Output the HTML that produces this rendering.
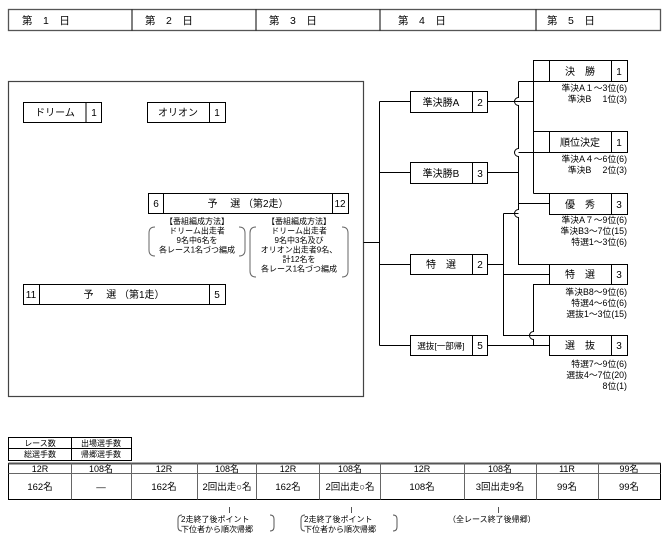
<!DOCTYPE html>
<html><head><meta charset="utf-8"><style>
body{margin:0;background:#fff}
svg{display:block}
text{font-family:"Liberation Sans","Noto Sans CJK JP",sans-serif;fill:#000}
</style></head><body>
<svg width="670" height="534" viewBox="0 0 670 534" xmlns="http://www.w3.org/2000/svg">
<g fill="none" stroke="#000" stroke-width="1">
<rect x="8.5" y="9.5" width="652" height="21" stroke="#555" stroke-width="1.3"/>
<line x1="132" y1="9.5" x2="132" y2="30.5"/><line x1="256" y1="9.5" x2="256" y2="30.5"/>
<line x1="380" y1="9.5" x2="380" y2="30.5"/><line x1="536" y1="9.5" x2="536" y2="30.5"/>
<rect x="8.5" y="81.5" width="355" height="315" stroke="#444" stroke-width="1.2"/>
<rect x="23.5" y="102.5" width="78" height="20"/><line x1="86" y1="102.5" x2="86" y2="122.5"/>
<rect x="147.5" y="102.5" width="78" height="20"/><line x1="209.5" y1="102.5" x2="209.5" y2="122.5"/>
<rect x="148.5" y="193.5" width="200" height="20"/><line x1="163.5" y1="193.5" x2="163.5" y2="213.5"/><line x1="332.5" y1="193.5" x2="332.5" y2="213.5"/>
<rect x="23.5" y="284.5" width="202" height="20"/><line x1="39.5" y1="284.5" x2="39.5" y2="304.5"/><line x1="209.5" y1="284.5" x2="209.5" y2="304.5"/>
<path d="M155 227 Q149 227 149 233 L149 250 Q149 256 155 256" stroke="#666"/>
<path d="M239 227 Q245 227 245 233 L245 250 Q245 256 239 256" stroke="#666"/>
<path d="M256 227 Q250 227 250 233 L250 271 Q250 277 256 277" stroke="#666"/>
<path d="M342 227 Q348 227 348 233 L348 271 Q348 277 342 277" stroke="#666"/>
<line x1="363.5" y1="242.5" x2="379.5" y2="242.5"/>
<line x1="379.5" y1="101.5" x2="379.5" y2="345.5"/>
<line x1="379.5" y1="101.5" x2="410.5" y2="101.5"/>
<line x1="379.5" y1="172.5" x2="410.5" y2="172.5"/>
<line x1="379.5" y1="264.5" x2="410.5" y2="264.5"/>
<line x1="379.5" y1="345.5" x2="410.5" y2="345.5"/>
<rect x="410.5" y="91.5" width="77" height="21"/><line x1="472.5" y1="91.5" x2="472.5" y2="112.5"/>
<rect x="410.5" y="162.5" width="77" height="21"/><line x1="472.5" y1="162.5" x2="472.5" y2="183.5"/>
<rect x="410.5" y="254.5" width="77" height="20"/><line x1="472.5" y1="254.5" x2="472.5" y2="274.5"/>
<rect x="410.5" y="335.5" width="77" height="20"/><line x1="472.5" y1="335.5" x2="472.5" y2="355.5"/>
<rect x="533.5" y="60.5" width="94" height="21"/><line x1="549.5" y1="60.5" x2="549.5" y2="81.5"/><line x1="611.5" y1="60.5" x2="611.5" y2="81.5"/>
<rect x="533.5" y="131.5" width="94" height="21"/><line x1="549.5" y1="131.5" x2="549.5" y2="152.5"/><line x1="611.5" y1="131.5" x2="611.5" y2="152.5"/>
<rect x="549.5" y="193.5" width="78" height="21"/><line x1="611.5" y1="193.5" x2="611.5" y2="214.5"/>
<rect x="549.5" y="264.5" width="78" height="20"/><line x1="611.5" y1="264.5" x2="611.5" y2="284.5"/>
<rect x="549.5" y="335.5" width="78" height="20"/><line x1="611.5" y1="335.5" x2="611.5" y2="355.5"/>
<line x1="533.5" y1="81.5" x2="533.5" y2="193.5"/><line x1="533.5" y1="193.5" x2="549.5" y2="193.5"/>
<line x1="487.5" y1="101.5" x2="533.5" y2="101.5"/>
<line x1="487.5" y1="172.5" x2="518.5" y2="172.5"/>
<line x1="518.5" y1="81.5" x2="533.5" y2="81.5"/>
<line x1="518.5" y1="152.5" x2="533.5" y2="152.5"/>
<line x1="518.5" y1="203.5" x2="549.5" y2="203.5"/>
<path d="M518.5 81.5 L518.5 97.5 A4 4 0 0 0 518.5 105.5 L518.5 148.5 A4 4 0 0 0 518.5 156.5 L518.5 209.5 A4 4 0 0 0 518.5 217.5 L518.5 264.5 L549.5 264.5"/>
<line x1="487.5" y1="264.5" x2="503.5" y2="264.5"/>
<line x1="503.5" y1="213.5" x2="518.5" y2="213.5"/>
<path d="M503.5 213.5 L503.5 335.5 L549.5 335.5"/>
<line x1="503.5" y1="274.5" x2="549.5" y2="274.5"/>
<path d="M549.5 284.5 L533.5 284.5 L533.5 331.5 A4 4 0 0 0 533.5 339.5 L533.5 345.5"/>
<line x1="487.5" y1="345.5" x2="549.5" y2="345.5"/>
<rect x="8.5" y="437.5" width="123" height="23"/><line x1="71.5" y1="437.5" x2="71.5" y2="460.5"/><line x1="8.5" y1="448.5" x2="131.5" y2="448.5"/>
<rect x="8.5" y="463.5" width="652" height="36"/>
<line x1="8.5" y1="463.5" x2="660.5" y2="463.5" stroke="#555" stroke-width="2"/>
<line x1="8.5" y1="473.5" x2="660.5" y2="473.5" stroke="#666"/>
<g stroke="#666"><line x1="71.5" y1="463" x2="71.5" y2="499.5"/><line x1="131.5" y1="463" x2="131.5" y2="499.5"/><line x1="197.5" y1="463" x2="197.5" y2="499.5"/><line x1="256.5" y1="463" x2="256.5" y2="499.5"/><line x1="319.5" y1="463" x2="319.5" y2="499.5"/><line x1="380.5" y1="463" x2="380.5" y2="499.5"/><line x1="464.5" y1="463" x2="464.5" y2="499.5"/><line x1="536.5" y1="463" x2="536.5" y2="499.5"/><line x1="598.5" y1="463" x2="598.5" y2="499.5"/></g>
<line x1="229.5" y1="507" x2="229.5" y2="513" stroke="#555"/><line x1="351.5" y1="507" x2="351.5" y2="513" stroke="#555"/><line x1="498.5" y1="507" x2="498.5" y2="513" stroke="#555"/>
<path d="M182 515 Q178 515 178 519 L178 527 Q178 531 182 531" stroke="#555"/>
<path d="M270 515 Q274 515 274 519 L274 527 Q274 531 270 531" stroke="#555"/>
<path d="M305 515 Q301 515 301 519 L301 527 Q301 531 305 531" stroke="#555"/>
<path d="M393 515 Q397 515 397 519 L397 527 Q397 531 393 531" stroke="#555"/>
</g>
<g font-size="10.5">
<text x="22" y="24">第　1　日</text><text x="145" y="24">第　2　日</text><text x="269" y="24">第　3　日</text><text x="398" y="24">第　4　日</text><text x="547" y="24">第　5　日</text>
</g>
<g font-size="10" text-anchor="middle">
<text x="55" y="116">ドリーム</text><text x="94" y="116">1</text>
<text x="178" y="116">オリオン</text><text x="217" y="116">1</text>
<text x="156" y="207">6</text><text x="248" y="207">予　 選 （第2走）</text><text x="340" y="207">12</text>
<text x="31" y="298">11</text><text x="124" y="298">予　 選 （第1走）</text><text x="217" y="298">5</text>
<text x="441" y="106">準決勝A</text><text x="480" y="106">2</text>
<text x="441" y="177">準決勝B</text><text x="480" y="177">3</text>
<text x="441" y="268">特　選</text><text x="480" y="268">2</text>
<text x="441" y="349" font-size="8.5">選抜[一部帰]</text><text x="480" y="349">5</text>
<text x="580" y="75">決　勝</text><text x="619" y="75">1</text>
<text x="580" y="146">順位決定</text><text x="619" y="146">1</text>
<text x="580" y="208">優　秀</text><text x="619" y="208">3</text>
<text x="580" y="278">特　選</text><text x="619" y="278">3</text>
<text x="580" y="349">選　抜</text><text x="619" y="349">3</text>
</g>
<g font-size="8" text-anchor="middle">
<text x="197" y="224">【番組編成方法】</text><text x="197" y="233.5">ドリーム出走者</text><text x="197" y="243">9名中6名を</text><text x="197" y="252.5">各レース1名づつ編成</text>
<text x="299" y="224">【番組編成方法】</text><text x="299" y="233.5">ドリーム出走者</text><text x="299" y="243">9名中3名及び</text><text x="299" y="252.5">オリオン出走者9名、</text><text x="299" y="262">計12名を</text><text x="299" y="271.5">各レース1名づつ編成</text>
</g>
<g font-size="8.8" text-anchor="end">
<text x="627" y="91">準決A１～3位(6)</text><text x="627" y="102">準決B　 1位(3)</text>
<text x="627" y="162">準決A４～6位(6)</text><text x="627" y="173">準決B　 2位(3)</text>
<text x="627" y="223">準決A７～9位(6)</text><text x="627" y="234">準決B3～7位(15)</text><text x="627" y="245">特選1～3位(6)</text>
<text x="627" y="295">準決B8～9位(6)</text><text x="627" y="306">特選4～6位(6)</text><text x="627" y="317">選抜1～3位(15)</text>
<text x="627" y="367">特選7～9位(6)</text><text x="627" y="378">選抜4～7位(20)</text><text x="627" y="389">8位(1)</text>
</g>
<g font-size="8" text-anchor="middle">
<text x="40" y="446">レース数</text><text x="101" y="446">出場選手数</text>
<text x="40" y="457">総選手数</text><text x="101" y="457">帰郷選手数</text>
</g>
<g font-size="9" text-anchor="middle">
<text x="40" y="472">12R</text><text x="101" y="472">108名</text><text x="164" y="472">12R</text><text x="227" y="472">108名</text><text x="288" y="472">12R</text><text x="350" y="472">108名</text><text x="422" y="472">12R</text><text x="500" y="472">108名</text><text x="567" y="472">11R</text><text x="629" y="472">99名</text>
</g>
<g font-size="9.5" text-anchor="middle">
<text x="40" y="490">162名</text><text x="101" y="490">—</text><text x="164" y="490">162名</text><text x="227" y="490">2回出走○名</text><text x="288" y="490">162名</text><text x="350" y="490">2回出走○名</text><text x="422" y="490">108名</text><text x="500" y="490">3回出走9名</text><text x="567" y="490">99名</text><text x="629" y="490">99名</text>
</g>
<g font-size="8">
<text x="181" y="522">2走終了後ポイント</text><text x="181" y="532">下位者から順次帰郷</text>
<text x="304" y="522">2走終了後ポイント</text><text x="304" y="532">下位者から順次帰郷</text>
<text x="448" y="522">（全レース終了後帰郷）</text>
</g>
</svg>
</body></html>
